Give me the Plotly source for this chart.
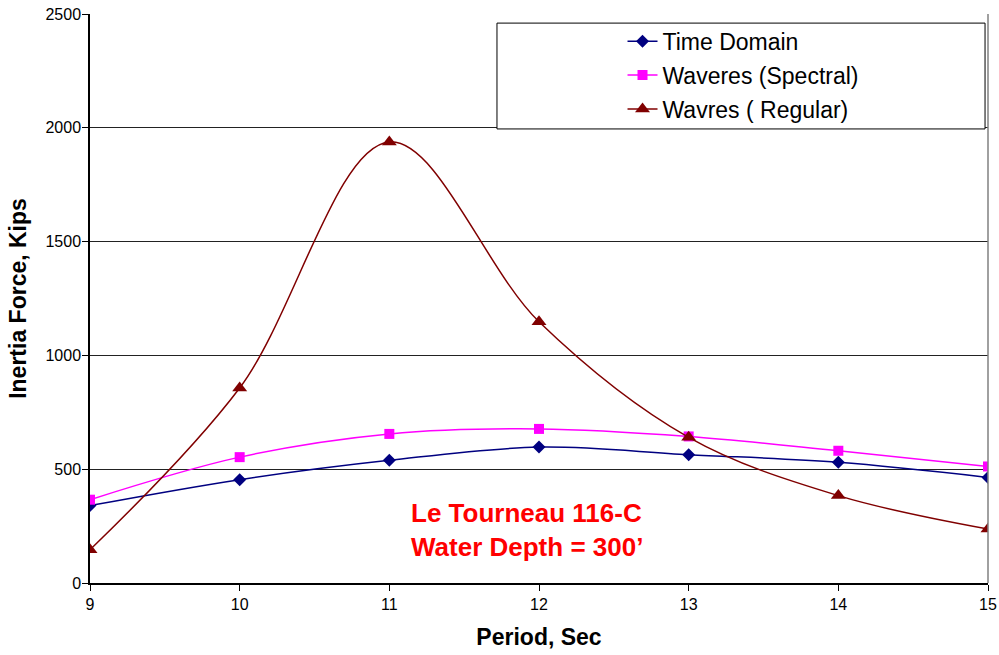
import plotly.graph_objects as go

# Wave period (s) and inertia force results (kips)
period = [9, 10, 11, 12, 13, 14, 15]
time_domain = [340, 454, 539, 597, 564, 530, 464]
waveres_spectral = [366, 553, 655, 677, 644, 581, 512]
wavres_regular = [146, 857, 1938, 1148, 640, 384, 237]

y_ticks = [0, 500, 1000, 1500, 2000, 2500]

series = [
    ("Time Domain", time_domain, "#000080", "diamond", 10),
    ("Waveres (Spectral)", waveres_spectral, "#FF00FF", "square", 10),
    ("Wavres ( Regular)", wavres_regular, "#800000", "triangle-up", 13),
]

fig = go.Figure()
for i, (name, vals, color, symbol, msize) in enumerate(series):
    fig.add_trace(go.Scatter(
        x=period, y=vals, name=name, mode="lines+markers",
        line=dict(color=color, width=1.5, shape="spline", smoothing=1.0),
        marker=dict(color=color, symbol=symbol, size=msize),
        legendgroup=f"g{i}",
    ))

font_main = "Arial, Liberation Sans, sans-serif"

fig.update_layout(
    width=999, height=655,
    margin=dict(l=90, r=11, t=14, b=72, autoexpand=False),
    paper_bgcolor="white", plot_bgcolor="white",
    font=dict(family=font_main, color="black"),
    showlegend=True,
    legend=dict(
        x=0.593, y=0.99, xanchor="left", yanchor="top",
        bgcolor="rgba(0,0,0,0)", borderwidth=0,
        font=dict(size=23, family=font_main),
        traceorder="grouped", tracegroupgap=1,
        itemwidth=30,
    ),
    xaxis=dict(
        range=[9, 15], tickmode="array", tickvals=period,
        ticks="outside", ticklen=6, tickcolor="black",
        showline=True, linecolor="black", linewidth=1.5,
        showgrid=False, zeroline=False, automargin=False,
        tickfont=dict(size=16),
        title=dict(text="<b>Period, Sec</b>", font=dict(size=23), standoff=17),
    ),
    yaxis=dict(
        range=[0, 2500], tickmode="array", tickvals=y_ticks,
        ticks="outside", ticklen=6, tickcolor="black",
        showline=True, linecolor="black", linewidth=1.5,
        showgrid=True, gridcolor="#222222", gridwidth=1,
        zeroline=False, automargin=False,
        tickfont=dict(size=16), ticklabelstandoff=-2,
        title=dict(text="<b>Inertia Force, Kips</b>", font=dict(size=23), standoff=12),
    ),
    shapes=[
        # right edge of the plot area
        dict(type="line", xref="paper", yref="paper", x0=1, x1=1, y0=0, y1=1,
             line=dict(color="#808080", width=1.5)),
        # legend frame
        dict(type="rect", xref="paper", yref="paper",
             x0=0.4532, x1=0.9967, y0=0.798, y1=0.984,
             line=dict(color="black", width=1), fillcolor="white", layer="above"),
    ],
    annotations=[
        dict(x=11.92, y=235, xref="x", yref="y", showarrow=False,
             text="<b>Le Tourneau 116-C<br>Water Depth = 300\u2019</b>",
             font=dict(size=26, color="#FF0000"), align="left",
             xanchor="center", yanchor="middle"),
    ],
)

fig.write_html("out.html")
